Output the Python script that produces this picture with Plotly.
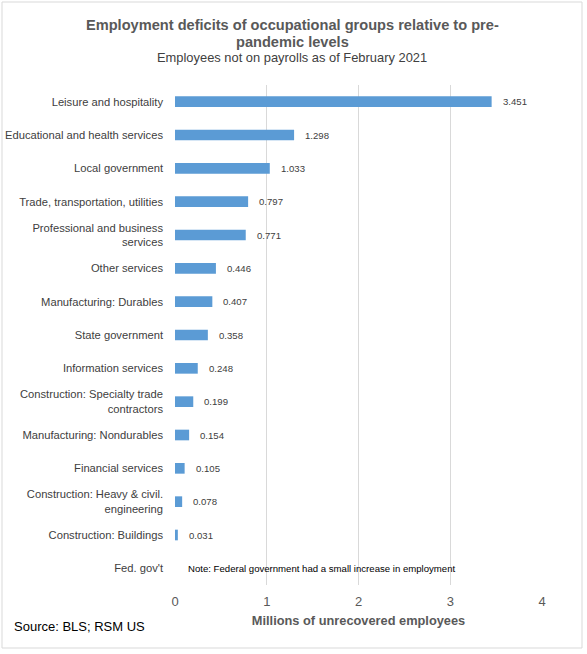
import plotly.graph_objects as go

categories = [
    "Leisure and hospitality",
    "Educational and health services",
    "Local government",
    "Trade, transportation, utilities",
    "Professional and business<br>services",
    "Other services",
    "Manufacturing: Durables",
    "State government",
    "Information services",
    "Construction: Specialty trade<br>contractors",
    "Manufacturing: Nondurables",
    "Financial services",
    "Construction: Heavy & civil.<br>engineering",
    "Construction: Buildings",
    "Fed. gov't",
]
values = [3.451, 1.298, 1.033, 0.797, 0.771, 0.446, 0.407, 0.358, 0.248, 0.199,
          0.154, 0.105, 0.078, 0.031, None]
value_labels = ["3.451", "1.298", "1.033", "0.797", "0.771", "0.446", "0.407", "0.358",
                "0.248", "0.199", "0.154", "0.105", "0.078", "0.031", ""]
x_ticks = [0, 1, 2, 3, 4]

FONT = "Liberation Sans, Arial, sans-serif"

fig = go.Figure()
fig.add_trace(go.Bar(
    x=values, y=categories, orientation="h",
    marker=dict(color="#5b9bd5", line=dict(width=0)),
    width=0.32, hoverinfo="x+y",
))

annotations = []
for c, v, t in zip(categories, values, value_labels):
    if v is None:
        continue
    annotations.append(dict(x=v, y=c, xref="x", yref="y", text=t, showarrow=False,
                            xanchor="left", yanchor="middle", xshift=9,
                            font=dict(size=9.6, color="#404040", family=FONT)))

annotations.append(dict(x=0, y="Fed. gov't", xref="x", yref="y",
                        text="Note: Federal government had a small increase in employment",
                        showarrow=False, xanchor="left", yanchor="middle", xshift=11,
                        font=dict(size=9.6, color="#000000", family=FONT)))

annotations += [
    dict(text="<b>Employment deficits of occupational groups relative to pre-</b>",
         xref="paper", yref="paper", x=(292 - 175) / 367, y=(585 - 25) / 500,
         xanchor="center", yanchor="middle", showarrow=False,
         font=dict(size=14.6, color="#595959", family=FONT)),
    dict(text="<b>pandemic levels</b>",
         xref="paper", yref="paper", x=(292 - 175) / 367, y=(585 - 42) / 500,
         xanchor="center", yanchor="middle", showarrow=False,
         font=dict(size=14.6, color="#595959", family=FONT)),
    dict(text="Employees not on payrolls as of February 2021",
         xref="paper", yref="paper", x=(292 - 175) / 367, y=(585 - 58) / 500,
         xanchor="center", yanchor="middle", showarrow=False,
         font=dict(size=12.9, color="#404040", family=FONT)),
    dict(text="Source: BLS; RSM US",
         xref="paper", yref="paper", x=(12 - 175) / 367, y=(585 - 626) / 500,
         xanchor="left", yanchor="middle", showarrow=False,
         font=dict(size=13, color="#000000", family=FONT)),
]

fig.update_layout(
    width=587, height=654,
    margin=dict(l=175, r=45, t=85, b=69, autoexpand=False),
    paper_bgcolor="white", plot_bgcolor="white",
    showlegend=False,
    font=dict(family=FONT),
    annotations=annotations,
    shapes=[dict(type="rect", xref="paper", yref="paper",
                 x0=(2 - 175) / 367, x1=(582 - 175) / 367,
                 y0=(585 - 648) / 500, y1=(585 - 2) / 500,
                 line=dict(color="#d9d9d9", width=1), fillcolor="rgba(0,0,0,0)",
                 layer="below")],
    xaxis=dict(range=[0, 4], tickvals=x_ticks, ticktext=[str(t) for t in x_ticks],
               showgrid=True, gridcolor="#d9d9d9", gridwidth=1, zeroline=False,
               showline=False, ticks="", automargin=False, ticklabelstandoff=7,
               tickfont=dict(size=13, color="#595959", family=FONT),
               title=dict(text="<b>Millions of unrecovered employees</b>",
                          font=dict(size=12.8, color="#595959", family=FONT),
                          standoff=8)),
    yaxis=dict(autorange="reversed", showgrid=False, zeroline=False, showline=False,
               ticks="", ticklabelstandoff=11, automargin=False,
               tickfont=dict(size=11.2, color="#404040", family=FONT)),
)

fig.write_html("out.html", config={"displayModeBar": False},
               post_script="document.body.style.margin='0';")
